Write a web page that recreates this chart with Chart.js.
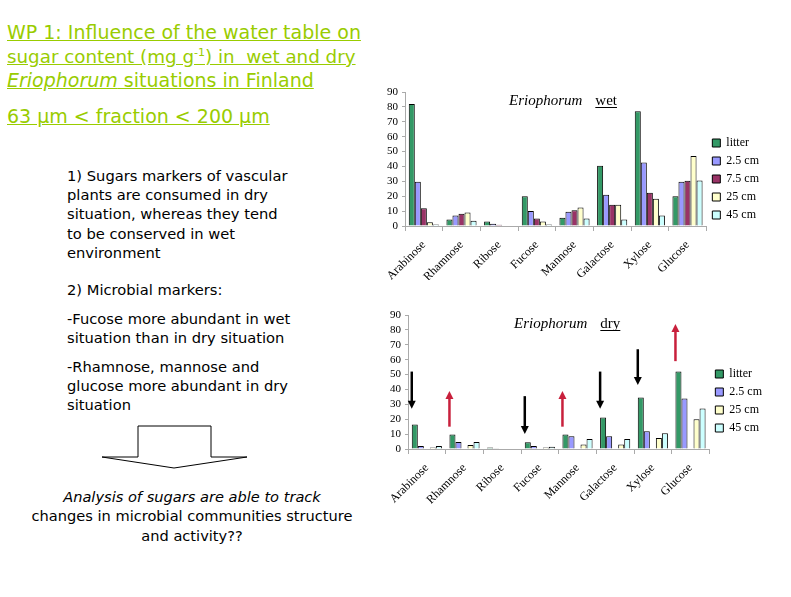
<!DOCTYPE html>
<html>
<head>
<meta charset="utf-8">
<script src="https://cdn.jsdelivr.net/npm/chart.js@4/dist/chart.umd.min.js"></script>
<style>
  html, body { margin: 0; padding: 0; background: #fff; }
  body { width: 791px; height: 597px; position: relative; overflow: hidden; font-family: "DejaVu Sans", sans-serif; }
  .t { position: absolute; left: 7px; color: #99cc00; font-size: 19px; text-decoration: underline; white-space: nowrap; line-height: 20px; }
  .t sup { font-size: 11px; line-height: 0; vertical-align: 7px; }
  .b { position: absolute; left: 67px; color: #000; font-size: 14.7px; white-space: nowrap; line-height: 16px; }
  .c { position: absolute; left: 0; width: 384px; text-align: center; color: #000; font-size: 14.6px; white-space: nowrap; line-height: 16px; }
  #wetBox { position: absolute; left: 370px; top: 80px; width: 421px; height: 200px; }
  #dryBox { position: absolute; left: 370px; top: 300px; width: 421px; height: 205px; }
</style>
</head>
<body>
<div class="t" style="top:22px">WP 1: Influence of the water table on</div>
<div class="t" style="top:47px; font-size:18.3px">sugar content (mg g<sup>-1</sup>) in&nbsp; wet and dry</div>
<div class="t" style="top:70px"><i>Eriophorum</i> situations in Finland</div>
<div class="t" style="top:106px">63 µm &lt; fraction &lt; 200 µm</div>

<div class="b" style="top:168px">1) Sugars markers of vascular</div>
<div class="b" style="top:187px">plants are consumed in dry</div>
<div class="b" style="top:206px">situation, whereas they tend</div>
<div class="b" style="top:226px">to be conserved in wet</div>
<div class="b" style="top:245px">environment</div>
<div class="b" style="top:282px">2) Microbial markers:</div>
<div class="b" style="top:311px">-Fucose more abundant in wet</div>
<div class="b" style="top:330px">situation than in dry situation</div>
<div class="b" style="top:359px">-Rhamnose, mannose and</div>
<div class="b" style="top:378px">glucose more abundant in dry</div>
<div class="b" style="top:397px">situation</div>

<svg style="position:absolute;left:0;top:0" width="380" height="597">
  <polygon points="138,426 211,426 211,457 247,457 174,468 102,457 138,457" fill="none" stroke="#000" stroke-width="1"/>
</svg>

<div class="c" style="top:489px"><i>Analysis of sugars are able to track</i></div>
<div class="c" style="top:508px">changes in microbial communities structure</div>
<div class="c" style="top:528px">and activity??</div>

<div id="wetBox"><canvas id="wet"></canvas></div>
<div id="dryBox"><canvas id="dry"></canvas></div>

<script>
// categories and series
var categories = ['Arabinose', 'Rhamnose', 'Ribose', 'Fucose', 'Mannose', 'Galactose', 'Xylose', 'Glucose'];
var seriesNames = ['litter', '2.5 cm', '7.5 cm', '25 cm', '45 cm'];
var seriesColors = ['#339966', '#9999ff', '#993366', '#ffffcc', '#ccffff'];
var yTicks = [0, 10, 20, 30, 40, 50, 60, 70, 80, 90];

// wet situation (mg g-1)
var wetLitter = [82, 4.3, 3, 20, 5.6, 40.5, 77, 20];
var wet2_5 = [29.8, 7, 1.5, 10, 9.6, 21, 42.7, 29.8];
var wet7_5 = [11.9, 8.3, 0.9, 5, 10.5, 14.3, 22.4, 30.4];
var wet25 = [2.5, 9, 0.3, 3, 12.5, 14.3, 18.3, 47];
var wet45 = [1, 3.6, 0, 1, 5, 4.3, 7, 30.6];

// dry situation (no 7.5 cm samples)
var dryLitter = [16.5, 9.8, 1, 4.5, 9.8, 21.2, 34.6, 52];
var dry2_5 = [2, 4.7, 0.5, 2, 8.5, 8.5, 12, 34];
var dry7_5 = [null, null, null, null, null, null, null, null];
var dry25 = [1, 2.7, 0.3, 1, 3, 3, 7.4, 20];
var dry45 = [2, 4.7, 0.3, 1.5, 6.7, 6.7, 10.5, 27.2];

// arrows drawn on the dry chart (start value -> end value)
var arrowCats = ['Arabinose', 'Rhamnose', 'Fucose', 'Mannose', 'Galactose', 'Xylose', 'Glucose'];
var arrowFrom = [52, 15, 35.5, 15, 52, 67, 59];
var arrowTo = [27, 39, 10, 39, 27, 43, 84];

var serif = '"Liberation Serif", "Times New Roman", serif';

function makeDatasets(arrs) {
    var ds = [];
    for (var i = 0; i < arrs.length; i++) {
        ds.push({
            label: seriesNames[i],
            data: arrs[i],
            backgroundColor: seriesColors[i],
            borderColor: '#000',
            borderWidth: 1,
            barPercentage: 1.0,
            categoryPercentage: 0.8
        });
    }
    return ds;
}

// title "Eriophorum  wet" with italic word and underlined word
function titlePlugin(word, dx) {
    return {
        id: 'slideTitle',
        afterDraw: function (chart) {
            var ctx = chart.ctx, a = chart.chartArea;
            ctx.save();
            ctx.fillStyle = '#000';
            ctx.textBaseline = 'alphabetic';
            ctx.font = 'italic 15px ' + serif;
            var x = a.left + dx, y = a.top + 13;
            ctx.fillText('Eriophorum', x, y);
            var w = ctx.measureText('Eriophorum').width;
            ctx.font = '15px ' + serif;
            var x2 = x + w + 13;
            ctx.fillText(word, x2, y);
            var w2 = ctx.measureText(word).width;
            ctx.strokeStyle = '#000';
            ctx.lineWidth = 1;
            ctx.beginPath();
            ctx.moveTo(x2, y + 2.5);
            ctx.lineTo(x2 + w2, y + 2.5);
            ctx.stroke();
            ctx.restore();
        }
    };
}

var arrowPlugin = {
    id: 'arrows',
    afterDraw: function (chart) {
        var ctx = chart.ctx, ys = chart.scales.y;
        var meta = chart.getDatasetMeta(0);
        ctx.save();
        for (var i = 0; i < arrowCats.length; i++) {
            var idx = categories.indexOf(arrowCats[i]);
            var x = meta.data[idx].x - 3;
            var y1 = ys.getPixelForValue(arrowFrom[i]);
            var y2 = ys.getPixelForValue(arrowTo[i]);
            var up = arrowTo[i] > arrowFrom[i];
            var col = up ? '#c8203c' : '#000';
            var dir = up ? -1 : 1;
            ctx.strokeStyle = col;
            ctx.fillStyle = col;
            ctx.lineWidth = 2.5;
            ctx.beginPath();
            ctx.moveTo(x, y1);
            ctx.lineTo(x, y2 - dir * 6);
            ctx.stroke();
            ctx.beginPath();
            ctx.moveTo(x - 4, y2 - dir * 8);
            ctx.lineTo(x + 4, y2 - dir * 8);
            ctx.lineTo(x, y2);
            ctx.closePath();
            ctx.fill();
        }
        ctx.restore();
    }
};

function makeOptions(yWidth, xHeight, padTop, padRight, legendTop, legendFilter) {
    return {
        responsive: true,
        maintainAspectRatio: false,
        animation: false,
        layout: { padding: { top: padTop, right: padRight, left: 0, bottom: 0 } },
        plugins: {
            legend: {
                position: 'right',
                align: 'start',
                // empty title only used as a spacer above the items
                title: { display: true, text: ' ', font: { size: 1, lineHeight: 1 }, padding: { top: legendTop, bottom: 0 } },
                labels: {
                    boxWidth: 8,
                    boxHeight: 8,
                    padding: 6,
                    color: '#000',
                    font: { family: serif, size: 12 },
                    filter: legendFilter
                }
            },
            tooltip: { enabled: false },
            title: { display: false }
        },
        scales: {
            x: {
                grid: { display: true, drawOnChartArea: false, drawTicks: true, tickLength: 5, color: '#aaa', offset: true },
                border: { color: '#aaa' },
                ticks: {
                    autoSkip: false,
                    minRotation: 45,
                    maxRotation: 45,
                    color: '#000',
                    padding: 7,
                    font: { family: serif, size: 12 }
                },
                afterFit: function (s) { s.height = xHeight; }
            },
            y: {
                min: 0,
                max: 90,
                grid: { display: true, drawOnChartArea: false, drawTicks: true, tickLength: 3, color: '#aaa' },
                border: { color: '#aaa' },
                afterBuildTicks: function (s) { s.ticks = yTicks.map(function (v) { return { value: v }; }); },
                ticks: {
                    autoSkip: false,
                    stepSize: 10,
                    color: '#000',
                    padding: 4,
                    font: { family: serif, size: 11 }
                },
                afterFit: function (s) { s.width = yWidth; }
            }
        }
    };
}

new Chart(document.getElementById('wet'), {
    type: 'bar',
    data: { labels: categories, datasets: makeDatasets([wetLitter, wet2_5, wet7_5, wet25, wet45]) },
    options: makeOptions(35, 54, 12, 22, 38, null),
    plugins: [titlePlugin('wet', 104)]
});

new Chart(document.getElementById('dry'), {
    type: 'bar',
    data: { labels: categories, datasets: makeDatasets([dryLitter, dry2_5, dry7_5, dry25, dry45]) },
    options: makeOptions(38, 56, 15, 19, 46, function (item) { return item.text !== '7.5 cm'; }),
    plugins: [titlePlugin('dry', 106), arrowPlugin]
});
</script>
</body>
</html>
